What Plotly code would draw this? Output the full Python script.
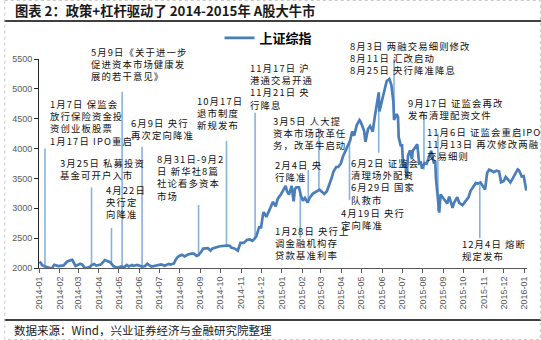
import plotly.graph_objects as go

# ---- data ----
idx_dates = ["2014-01-02","2014-01-06","2014-01-09","2014-01-13","2014-01-17","2014-01-20","2014-01-24","2014-01-30",
"2014-02-07","2014-02-12","2014-02-17","2014-02-20","2014-02-25","2014-02-28","2014-03-04","2014-03-07","2014-03-11",
"2014-03-14","2014-03-19","2014-03-21","2014-03-25","2014-03-28","2014-04-02","2014-04-04","2014-04-10","2014-04-15",
"2014-04-18","2014-04-23","2014-04-28","2014-05-05","2014-05-09","2014-05-13","2014-05-16","2014-05-21","2014-05-23",
"2014-05-29","2014-06-05","2014-06-09","2014-06-13","2014-06-19","2014-06-24","2014-06-30","2014-07-04","2014-07-09",
"2014-07-15","2014-07-18","2014-07-23","2014-07-25","2014-07-28","2014-07-31","2014-08-04","2014-08-08","2014-08-13",
"2014-08-18","2014-08-22","2014-08-26","2014-08-29","2014-09-03","2014-09-05","2014-09-12","2014-09-16","2014-09-19",
"2014-09-24","2014-09-30","2014-10-10","2014-10-15","2014-10-17","2014-10-22","2014-10-27","2014-10-29","2014-10-31",
"2014-11-05","2014-11-10","2014-11-14","2014-11-18","2014-11-21","2014-11-24","2014-11-28","2014-12-01","2014-12-04",
"2014-12-05","2014-12-09","2014-12-12","2014-12-16","2014-12-19","2014-12-23","2014-12-26","2014-12-31",
"2015-01-05","2015-01-07","2015-01-09","2015-01-12","2015-01-15","2015-01-16","2015-01-19","2015-01-21","2015-01-23",
"2015-01-27","2015-01-30","2015-02-02","2015-02-05","2015-02-09","2015-02-12","2015-02-17","2015-02-27","2015-03-03",
"2015-03-06","2015-03-10","2015-03-13","2015-03-17","2015-03-20","2015-03-24","2015-03-27","2015-03-31","2015-04-03",
"2015-04-08","2015-04-10","2015-04-14","2015-04-17","2015-04-20","2015-04-24","2015-04-28","2015-04-30","2015-05-05",
"2015-05-07","2015-05-11","2015-05-14","2015-05-18","2015-05-21","2015-05-26","2015-05-27","2015-05-28","2015-06-01",
"2015-06-04","2015-06-08","2015-06-12","2015-06-15","2015-06-18","2015-06-19","2015-06-23","2015-06-25","2015-06-26",
"2015-06-29","2015-07-01","2015-07-03","2015-07-06","2015-07-08","2015-07-09","2015-07-10","2015-07-13","2015-07-16",
"2015-07-17","2015-07-22","2015-07-24","2015-07-27","2015-07-29","2015-07-31","2015-08-04","2015-08-07","2015-08-12",
"2015-08-14","2015-08-18","2015-08-20","2015-08-21","2015-08-24","2015-08-26","2015-08-28","2015-09-02","2015-09-07",
"2015-09-10","2015-09-15","2015-09-17","2015-09-22","2015-09-25","2015-09-30","2015-10-09","2015-10-12","2015-10-15",
"2015-10-20","2015-10-23","2015-10-27","2015-10-30","2015-11-03","2015-11-06","2015-11-09","2015-11-12","2015-11-16",
"2015-11-20","2015-11-24","2015-11-27","2015-12-01","2015-12-04","2015-12-08","2015-12-11","2015-12-15","2015-12-18",
"2015-12-22","2015-12-24","2015-12-28","2015-12-31","2016-01-04"]
idx_values = [2109,2046,2028,2010,2004,1991,2054,2033,
2044,2105,2128,2138,2035,2056,2071,2057,1998,
2004,2021,2047,2067,2041,2059,2058,2134,2105,
2097,2031,2004,2027,2012,2051,2026,2049,2035,
2050,2024,2029,2070,2024,2035,2048,2059,2038,
2069,2059,2076,2127,2178,2201,2223,2194,2225,
2240,2240,2203,2217,2288,2326,2331,2291,2329,
2345,2364,2374,2373,2341,2327,2290,2373,2420,
2420,2474,2478,2456,2487,2532,2683,2680,2900,
2937,2856,2938,3022,3108,3032,3158,3235,
3351,3374,3285,3229,3336,3376,3116,3323,3351,
3352,3210,3128,3174,3095,3173,3246,3310,3263,
3241,3286,3373,3503,3617,3691,3691,3748,3863,
3995,4034,4135,4287,4217,4394,4476,4442,4298,
4112,4333,4378,4283,4529,4910,4941,4620,4828,
4947,5131,5166,5062,4785,4478,4577,4528,4193,
4053,4054,3687,3776,3507,3710,3878,3970,3823,
3958,4026,4070,3726,3790,3664,3757,3744,3887,
3965,3749,3794,3508,3210,2927,3232,3160,3080,
3197,3005,3086,3186,3092,3053,3183,3288,3338,
3425,3412,3434,3383,3316,3590,3646,3632,3606,
3630,3616,3436,3456,3525,3470,3434,3510,3578,
3651,3636,3533,3539,3296]

series_name = "上证综指"

# event leader lines (date, start value, end value)
event_dates = ["2014-01-10","2014-03-21","2014-04-20","2014-05-06","2014-06-05","2014-08-29","2014-10-10",
               "2014-11-22","2015-01-29","2015-02-10","2015-02-26","2015-04-13","2015-05-27","2015-06-19",
               "2015-08-03","2015-08-24","2015-10-26"]
event_from = [2020,2040,2090,2020,2030,2220,2380,2500,3250,3150,3300,4100,4650,4500,3650,2950,3400]
event_to   = [4000,3350,2670,4950,4030,3055,4130,4600,2500,3640,4345,3140,3930,5500,4600,4250,2500]

event_labels = [
    "1月7日 保监会<br>放行保险资金投<br>资创业板股票<br>1月17日 IPO重启",
    "5月9日《关于进一步<br>促进资本市场健康发<br>展的若干意见》",
    "3月25日 私募投资<br>基金可开户入市",
    "4月22日<br>央行定<br>向降准",
    "6月9日 央行<br>再次定向降准",
    "8月31日-9月2<br>日 新华社8篇<br>社论看多资本<br>市场",
    "10月17日<br>退市制度<br>新规发布",
    "11月17日 沪<br>港通交易开通<br>11月21日 央<br>行降息",
    "3月5日 人大提<br>资本市场改革任<br>务，改革牛启动",
    "2月4日 央<br>行降准",
    "1月28日 央行上<br>调金融机构存<br>贷款基准利率",
    "8月3日 两融交易细则修改<br>8月11日 汇改启动<br>8月25日 央行降准降息",
    "9月17日 证监会再改<br>发布清理配资文件",
    "11月6日 证监会重启IPO<br>11月13日 再次修改两融<br>交易细则",
    "6月2日 证监会<br>清理场外配资<br>6月29日 国家<br>队救市",
    "4月19日 央行<br>定向降准",
    "12月4日 熔断<br>规定发布",
]
# label layout (pixels): left x and centre y of first text line
label_x = [45, 86, 55, 102, 127, 153, 193, 247, 270, 272, 272, 348, 406, 425, 349, 338, 460]
label_y = [102, 50, 161, 188, 121, 157, 99, 66, 119, 163, 229, 44, 101, 130, 161, 211, 242]

title_text = "图表 2：政策+杠杆驱动了 2014-2015年 A股大牛市"
source_text = "数据来源：Wind，兴业证券经济与金融研究院整理"

# ---- figure ----
W, H = 541, 340
L, R, T, B = 35, 14, 59, 72
PW, PH = W - L - R, H - T - B
FS = 9.4

def pxp(x):
    return (x - L) / PW

def pyp(y):
    return (H - B - y) / PH

ev_x, ev_y = [], []
for d, a, b in zip(event_dates, event_from, event_to):
    ev_x += [d, d, None]
    ev_y += [a, b, None]

fig = go.Figure()
fig.add_trace(go.Scatter(x=ev_x, y=ev_y, mode="lines", line=dict(color="#86B2E0", width=1.6),
                         showlegend=False, hoverinfo="skip", cliponaxis=False))
fig.add_trace(go.Scatter(x=idx_dates, y=idx_values, mode="lines", name="<b>" + series_name + "</b>",
                         line=dict(color="#4A7EBB", width=2.7)))

annotations = []
for txt, x, y in zip(event_labels, label_x, label_y):
    styled = "<br>".join('<span style="letter-spacing:1.1px">' + s + "</span>" for s in txt.split("<br>"))
    annotations.append(dict(text=styled, x=pxp(x), y=pyp(y - 0.68 * FS), xref="paper", yref="paper",
                            xanchor="left", yanchor="top", showarrow=False, align="left",
                            borderpad=0,
                            font=dict(size=FS, color="#111", family="Noto Sans CJK SC")))
annotations.append(dict(text="<b>" + title_text + "</b>", x=pxp(9), y=pyp(11), xref="paper", yref="paper",
                        xanchor="left", yanchor="middle", showarrow=False,
                        font=dict(size=13.3, color="#1a1a1a", family="Noto Sans CJK SC")))
annotations.append(dict(text=source_text, x=pxp(8), y=pyp(330), xref="paper", yref="paper",
                        xanchor="left", yanchor="middle", showarrow=False,
                        font=dict(size=11.5, color="#1a1a1a", family="Noto Sans CJK SC")))

shapes = [
    dict(type="line", xref="paper", yref="paper", x0=pxp(0), x1=pxp(W), y0=pyp(21), y1=pyp(21),
         line=dict(color="#000", width=1.5)),
    dict(type="line", xref="paper", yref="paper", x0=pxp(0), x1=pxp(W), y0=pyp(320), y1=pyp(320),
         line=dict(color="#000", width=1.5)),
    dict(type="rect", xref="paper", yref="paper", x0=pxp(0.5), x1=pxp(W - 0.5), y0=pyp(0.5), y1=pyp(H - 0.5),
         line=dict(color="#c8c8c8", width=1, dash="dot")),
]

fig.update_layout(
    width=W, height=H, margin=dict(l=L, r=R, t=T, b=B),
    paper_bgcolor="white", plot_bgcolor="white",
    font=dict(family="Liberation Sans, Arial", color="#595959"),
    showlegend=True,
    legend=dict(x=pxp(217), y=pyp(38), xanchor="left", yanchor="middle", xref="paper", yref="paper",
                bgcolor="rgba(0,0,0,0)", font=dict(size=13, color="#000", family="Noto Sans CJK SC"),
                itemwidth=30),
    annotations=annotations, shapes=shapes,
    xaxis=dict(type="date", range=["2014-01-01", "2016-01-05"], tickformat="%Y-%m", dtick="M1",
               tick0="2014-01-01", tickangle=-90, tickfont=dict(size=9, color="#595959"),
               showgrid=False, zeroline=False, showline=True, linecolor="#595959", linewidth=1,
               ticks="outside", ticklen=4, tickcolor="#595959"),
    yaxis=dict(range=[2000, 5500], tickvals=[2000, 2500, 3000, 3500, 4000, 4500, 5000, 5500],
               tickfont=dict(size=9, color="#595959"), showgrid=False, zeroline=False,
               showline=True, linecolor="#262626", linewidth=1, ticks="outside", ticklen=4,
               tickcolor="#262626"),
)

fig.write_html("out.html")
